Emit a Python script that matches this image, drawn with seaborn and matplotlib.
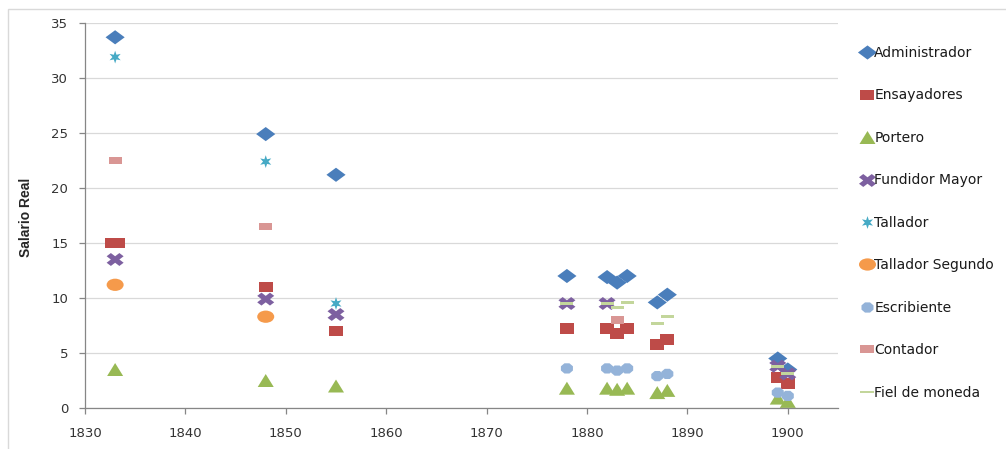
import numpy as np
import pandas as pd
import matplotlib
matplotlib.use("Agg")
import matplotlib.pyplot as plt
import seaborn as sns
from matplotlib.path import Path
from matplotlib.markers import MarkerStyle
from matplotlib.patches import Rectangle

# ---- data: real wages per post and year ----
puestos = ["Administrador", "Ensayadores", "Portero", "Fundidor Mayor", "Tallador",
           "Tallador Segundo", "Escribiente", "Contador", "Fiel de moneda"]

administrador_anios = [1833, 1848, 1855, 1878, 1882, 1883, 1884, 1887, 1888, 1899, 1900]
administrador = [33.7, 24.9, 21.2, 12.0, 11.9, 11.4, 12.0, 9.6, 10.3, 4.5, 3.5]

ensayadores_anios = [1832.7, 1833.3, 1848, 1855, 1878, 1882, 1883, 1884, 1887, 1888, 1899, 1900]
ensayadores = [15.0, 15.0, 11.0, 7.0, 7.2, 7.2, 6.8, 7.2, 5.8, 6.2, 2.8, 2.2]

portero_anios = [1833, 1848, 1855, 1878, 1882, 1883, 1884, 1887, 1888, 1899, 1900]
portero = [3.5, 2.5, 2.0, 1.8, 1.8, 1.7, 1.8, 1.4, 1.6, 0.9, 0.6]

fundidor_anios = [1833, 1848, 1855, 1878, 1882, 1899, 1900]
fundidor = [13.5, 9.9, 8.5, 9.5, 9.5, 3.8, 3.1]

tallador_anios = [1833, 1848, 1855]
tallador = [31.9, 22.4, 9.5]

tallador_segundo_anios = [1833, 1848]
tallador_segundo = [11.2, 8.3]

escribiente_anios = [1878, 1882, 1883, 1884, 1887, 1888, 1899, 1900]
escribiente = [3.6, 3.6, 3.4, 3.6, 2.9, 3.1, 1.4, 1.1]

contador_anios = [1833, 1848, 1883]
contador = [22.5, 16.5, 8.0]

fiel_anios = [1878, 1882, 1883, 1884, 1887, 1888, 1899, 1900]
fiel = [9.5, 9.5, 9.1, 9.6, 7.7, 8.3, 3.8, 3.1]

x_ticks = [1830, 1840, 1850, 1860, 1870, 1880, 1890, 1900]
y_ticks = [0, 5, 10, 15, 20, 25, 30, 35]

series = [
    (administrador_anios, administrador),
    (ensayadores_anios, ensayadores),
    (portero_anios, portero),
    (fundidor_anios, fundidor),
    (tallador_anios, tallador),
    (tallador_segundo_anios, tallador_segundo),
    (escribiente_anios, escribiente),
    (contador_anios, contador),
    (fiel_anios, fiel),
]
df = pd.concat(
    [pd.DataFrame({"Año": a, "Salario": v, "Puesto": p})
     for p, (a, v) in zip(puestos, series)],
    ignore_index=True,
)

# ---- marker shapes (slightly wider than tall) ----
def widened(marker, aspect):
    ms = MarkerStyle(marker)
    path = ms.get_path().transformed(ms.get_transform())
    v = path.vertices.copy()
    w = np.abs(v[:, 0]).max()
    h = np.abs(v[:, 1]).max()
    v[:, 0] = v[:, 0] / w
    v[:, 1] = v[:, 1] / h * aspect
    return Path(v, path.codes)


def bar(aspect):
    return Path([(-1, -aspect), (1, -aspect), (1, aspect), (-1, aspect), (-1, -aspect)],
                [Path.MOVETO, Path.LINETO, Path.LINETO, Path.LINETO, Path.CLOSEPOLY])


def asterisk():
    ang = np.deg2rad(90 + 30 * np.arange(12))
    r = np.where(np.arange(12) % 2 == 0, 1.0, 0.42)
    pts = np.column_stack([r * np.cos(ang), r * np.sin(ang)])
    pts = np.vstack([pts, pts[:1]])
    codes = [Path.MOVETO] + [Path.LINETO] * 11 + [Path.CLOSEPOLY]
    return Path(pts, codes)


marcadores = {
    "Administrador": widened("D", 0.74),
    "Ensayadores": bar(0.78),
    "Portero": widened("^", 0.81),
    "Fundidor Mayor": widened("X", 0.76),
    "Tallador": asterisk(),
    "Tallador Segundo": widened("o", 0.72),
    "Escribiente": widened("8", 0.85),
    "Contador": bar(0.55),
    "Fiel de moneda": bar(0.22),
}
colores = {
    "Administrador": "#4A7EBB",
    "Ensayadores": "#BE4B48",
    "Portero": "#98B954",
    "Fundidor Mayor": "#7D60A0",
    "Tallador": "#46AAC5",
    "Tallador Segundo": "#F59A4B",
    "Escribiente": "#94B3D9",
    "Contador": "#D99694",
    "Fiel de moneda": "#C3D69B",
}
tamanios = {
    "Administrador": 190,
    "Ensayadores": 102,
    "Portero": 133,
    "Fundidor Mayor": 150,
    "Tallador": 85,
    "Tallador Segundo": 150,
    "Escribiente": 75,
    "Contador": 88,
    "Fiel de moneda": 88,
}

sns.set_theme(style="white")
plt.rcParams["font.family"] = ["DejaVu Sans"]

fig = plt.figure(figsize=(10.06, 4.49), dpi=100)
ax = fig.add_axes([0.0845, 0.0913, 0.7485, 0.8575])

sns.scatterplot(
    data=df, x="Año", y="Salario", hue="Puesto", style="Puesto", size="Puesto",
    hue_order=puestos, style_order=puestos, size_order=puestos,
    palette=colores, markers=marcadores, sizes=tamanios,
    edgecolor="none", linewidth=0, alpha=1, legend="full", ax=ax,
)

ax.set_xlim(1830, 1905)
ax.set_ylim(0, 35)
ax.set_xticks(x_ticks)
ax.set_yticks(y_ticks)
ax.set_xlabel("")
ax.set_ylabel("Salario Real", fontsize=10, fontweight="bold",
              family=["Liberation Sans", "DejaVu Sans"])
ax.yaxis.set_label_coords(-0.069, 0.494)

ax.grid(axis="y", color="#D9D9D9", linewidth=0.9)
ax.grid(axis="x", visible=False)
for s in ("top", "right"):
    ax.spines[s].set_visible(False)
for s in ("left", "bottom"):
    ax.spines[s].set_color("#868686")
    ax.spines[s].set_linewidth(0.9)
ax.tick_params(axis="both", direction="out", length=4, width=0.9, color="#868686",
               labelsize=9.5, labelcolor="#333333")
ax.tick_params(axis="x", pad=10, bottom=True)
ax.tick_params(axis="y", pad=8, left=True)

sns.move_legend(
    ax, "upper left", bbox_to_anchor=(0.851, 0.910), bbox_transform=fig.transFigure,
    title=None, frameon=False, fontsize=10, labelspacing=2.05,
    handlelength=0.75, handletextpad=0.15, borderaxespad=0, borderpad=0.4,
)
for t in ax.get_legend().get_texts():
    t.set_color("#1A1A1A")

# light chart-area border
fig.patches.append(Rectangle((8 / 1006, -0.05), 1.2, 1.05 - 9 / 449, transform=fig.transFigure,
                             fill=False, edgecolor="#D9D9D9", linewidth=1))

fig.savefig("out.png", dpi=100)
